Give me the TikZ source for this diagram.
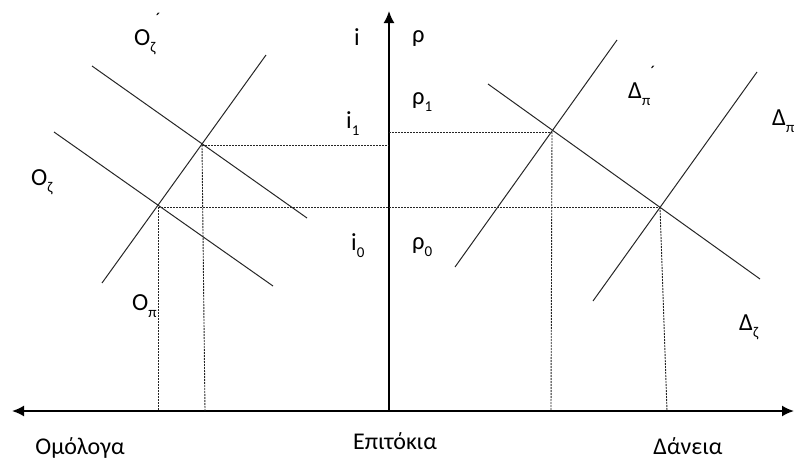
\documentclass[tikz,border=0pt]{standalone}
\usepackage{fontspec}
\setmainfont{Carlito}
\usetikzlibrary{arrows.meta}
\newcommand\lbsub[1]{\raisebox{-0.3em}{\fontsize{15}{15}\selectfont #1}}
\newcommand\lbprime{\raisebox{0.8em}{\fontsize{18}{18}\selectfont ´}}
\begin{document}
\begin{tikzpicture}[x=1pt,y=-1pt,
  curve/.style={line width=1pt,draw=black!85},
  axis/.style={line width=1.8pt,{Latex[length=12pt,width=11pt]}-{Latex[length=12pt,width=11pt]}},
  vaxis/.style={line width=1.8pt,-{Latex[length=12pt,width=11pt]}},
  guide/.style={line width=0.9pt,dash pattern=on 2pt off 1pt,draw=black!85},
  lab/.style={inner sep=0pt,anchor=base west,font=\fontsize{24.5}{26}\selectfont},
  blab/.style={inner sep=0pt,anchor=base,font=\fontsize{24}{26}\selectfont}]
\useasboundingbox (0,0) rectangle (795,461);
% axes
\coordinate (xl) at (12,411);
\coordinate (xr) at (794,411);
\coordinate (o) at (389,411);
\coordinate (yt) at (389,11);
\draw[axis] (xl) -- (xr);
\draw[vaxis] (o) -- (yt);
% left side curves
\coordinate (Oz1a) at (92,66);   \coordinate (Oz1b) at (307,218);
\coordinate (Oza) at (54,132);   \coordinate (Ozb) at (273,286);
\coordinate (Opa) at (266,55);   \coordinate (Opb) at (102,283);
\draw[curve] (Oz1a) -- (Oz1b);
\draw[curve] (Oza) -- (Ozb);
\draw[curve] (Opa) -- (Opb);
% right side curves
\coordinate (Dp1a) at (617,40);  \coordinate (Dp1b) at (455,267);
\coordinate (Dpa) at (757,72);   \coordinate (Dpb) at (593,301);
\coordinate (Dza) at (488,84);   \coordinate (Dzb) at (760,279);
\draw[curve] (Dp1a) -- (Dp1b);
\draw[curve] (Dpa) -- (Dpb);
\draw[curve] (Dza) -- (Dzb);
% intersections
\coordinate (L1) at (202,145);
\coordinate (L0) at (158,207);
\coordinate (R1) at (552,132);
\coordinate (R0) at (660,207);
% guides
\coordinate (ax1) at (389,145);
\coordinate (ax1r) at (389,132);
\coordinate (bL1) at (205,411);
\coordinate (bL0) at (158,411);
\coordinate (bR1) at (551,411);
\coordinate (bR0) at (667,411);
\draw[guide] (L1) -- (ax1);
\draw[guide] (ax1r) -- (R1);
\draw[guide] (L0) -- (R0);
\draw[guide] (L1) -- (bL1);
\draw[guide] (L0) -- (bL0);
\draw[guide] (R1) -- (bR1);
\draw[guide] (R0) -- (bR0);
% labels
\node[lab] (tOz1) at (134,45) {O\lbsub{ζ}\lbprime};
\node[lab] (tOz) at (31,185) {O\lbsub{ζ}};
\node[lab] (tOp) at (132,310) {O\lbsub{π}};
\node[lab] (ti) at (354,45) {i};
\node[lab] (trho) at (412,42) {ρ};
\node[lab] (trho1) at (412,104) {ρ\lbsub{1}};
\node[lab] (ti1) at (346,128) {i\lbsub{1}};
\node[lab] (ti0) at (351,250) {i\lbsub{0}};
\node[lab] (trho0) at (412,249) {ρ\lbsub{0}};
\node[lab] (tDp1) at (628,98) {Δ\lbsub{π}\lbprime};
\node[lab] (tDp) at (772,125) {Δ\lbsub{π}};
\node[lab] (tDz) at (739,330) {Δ\lbsub{ζ}};
\node[blab] (tb) at (80,454) {Ομόλογα};
\node[blab] (te) at (395,449) {Επιτόκια};
\node[blab] (td) at (688,454) {Δάνεια};
\end{tikzpicture}
\end{document}
